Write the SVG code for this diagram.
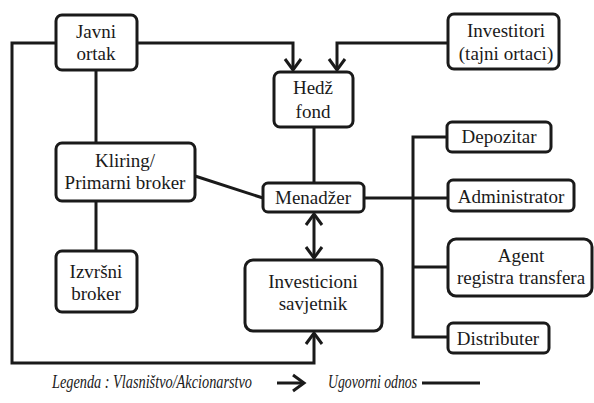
<svg xmlns="http://www.w3.org/2000/svg" width="594" height="403" viewBox="0 0 594 403" font-family="Liberation Serif">
<defs>
<marker id="ah" markerUnits="userSpaceOnUse" markerWidth="24" markerHeight="24" viewBox="-14 -12 18 24" refX="0" refY="0" orient="auto-start-reverse">
<path d="M-11,-8 L0,0 L-11,8" fill="none" stroke="#1a1a1a" stroke-width="3"/>
</marker>
</defs>
<rect width="594" height="403" fill="#fff"/>
<g id="connectors" fill="none" stroke="#1a1a1a" stroke-width="3">
<polyline points="137,43 293,43 293,70" marker-end="url(#ah)"/>
<polyline points="448,43 337,43 337,70" marker-end="url(#ah)"/>
<polyline points="56,43 12,43 12,363 314,363 314,333" marker-end="url(#ah)"/>
<line x1="96" y1="70" x2="96" y2="143"/>
<line x1="96" y1="201" x2="96" y2="251"/>
<line x1="195" y1="176" x2="263" y2="198"/>
<line x1="314" y1="127" x2="314" y2="183"/>
<line x1="314" y1="214" x2="314" y2="258" marker-start="url(#ah)" marker-end="url(#ah)"/>
<line x1="364" y1="198" x2="448" y2="198"/>
<polyline points="447,137 413,137 413,337 448,337"/>
<line x1="413" y1="267" x2="448" y2="267"/>
</g>
<g id="nodes" font-family="Liberation Serif" font-size="19" text-anchor="middle">
<g id="javni"><rect fill="#fff" stroke="#1a1a1a" stroke-width="3" x="56" y="15" width="81" height="55" rx="6"/><text fill="#1a1a1a" x="96" y="38">Javni</text><text fill="#1a1a1a" x="96" y="60">ortak</text></g>
<g id="investitori"><rect fill="#fff" stroke="#1a1a1a" stroke-width="3" x="448" y="14" width="111" height="55" rx="6"/><text fill="#1a1a1a" x="506" y="37">Investitori</text><text fill="#1a1a1a" x="506" y="60">(tajni ortaci)</text></g>
<g id="hedz"><rect fill="#fff" stroke="#1a1a1a" stroke-width="3" x="274" y="72" width="79" height="55" rx="6"/><text fill="#1a1a1a" x="313" y="94">Hedž</text><text fill="#1a1a1a" x="313" y="118">fond</text></g>
<g id="kliring"><rect fill="#fff" stroke="#1a1a1a" stroke-width="3" x="56" y="143" width="139" height="58" rx="6"/><text fill="#1a1a1a" x="125" y="167">Kliring/</text><text fill="#1a1a1a" x="125" y="189">Primarni broker</text></g>
<g id="menadzer"><rect fill="#fff" stroke="#1a1a1a" stroke-width="3" x="263" y="183" width="101" height="29" rx="5"/><text fill="#1a1a1a" x="313" y="204">Menadžer</text></g>
<g id="izvrsni"><rect fill="#fff" stroke="#1a1a1a" stroke-width="3" x="56" y="251" width="81" height="61" rx="6"/><text fill="#1a1a1a" x="96" y="278">Izvršni</text><text fill="#1a1a1a" x="96" y="300">broker</text></g>
<g id="investicioni"><rect fill="#fff" stroke="#1a1a1a" stroke-width="3" x="245" y="260" width="137" height="71" rx="8"/><text fill="#1a1a1a" x="313" y="288">Investicioni</text><text fill="#1a1a1a" x="313" y="310">savjetnik</text></g>
<g id="depozitar"><rect fill="#fff" stroke="#1a1a1a" stroke-width="3" x="447" y="122" width="104" height="30" rx="5"/><text fill="#1a1a1a" x="499" y="143">Depozitar</text></g>
<g id="administrator"><rect fill="#fff" stroke="#1a1a1a" stroke-width="3" x="448" y="180" width="126" height="31" rx="5"/><text fill="#1a1a1a" x="511" y="203">Administrator</text></g>
<g id="agent"><rect fill="#fff" stroke="#1a1a1a" stroke-width="3" x="448" y="239" width="144" height="57" rx="8"/><text fill="#1a1a1a" x="521" y="262">Agent</text><text fill="#1a1a1a" x="521" y="284">registra transfera</text></g>
<g id="distributer"><rect fill="#fff" stroke="#1a1a1a" stroke-width="3" x="448" y="323" width="101" height="30" rx="5"/><text fill="#1a1a1a" x="498" y="345">Distributer</text></g>
</g>
<g id="legend" font-family="Liberation Serif" font-style="italic" font-size="18" fill="#1a1a1a">
<text x="52" y="388" textLength="200" lengthAdjust="spacingAndGlyphs">Legenda : Vlasništvo/Akcionarstvo</text>
<line x1="277" y1="383" x2="304" y2="383" stroke="#1a1a1a" stroke-width="3" marker-end="url(#ah)"/>
<text x="328" y="388" textLength="89" lengthAdjust="spacingAndGlyphs">Ugovorni odnos</text>
<line x1="422" y1="383" x2="480" y2="383" stroke="#1a1a1a" stroke-width="3"/>
</g>
</svg>
